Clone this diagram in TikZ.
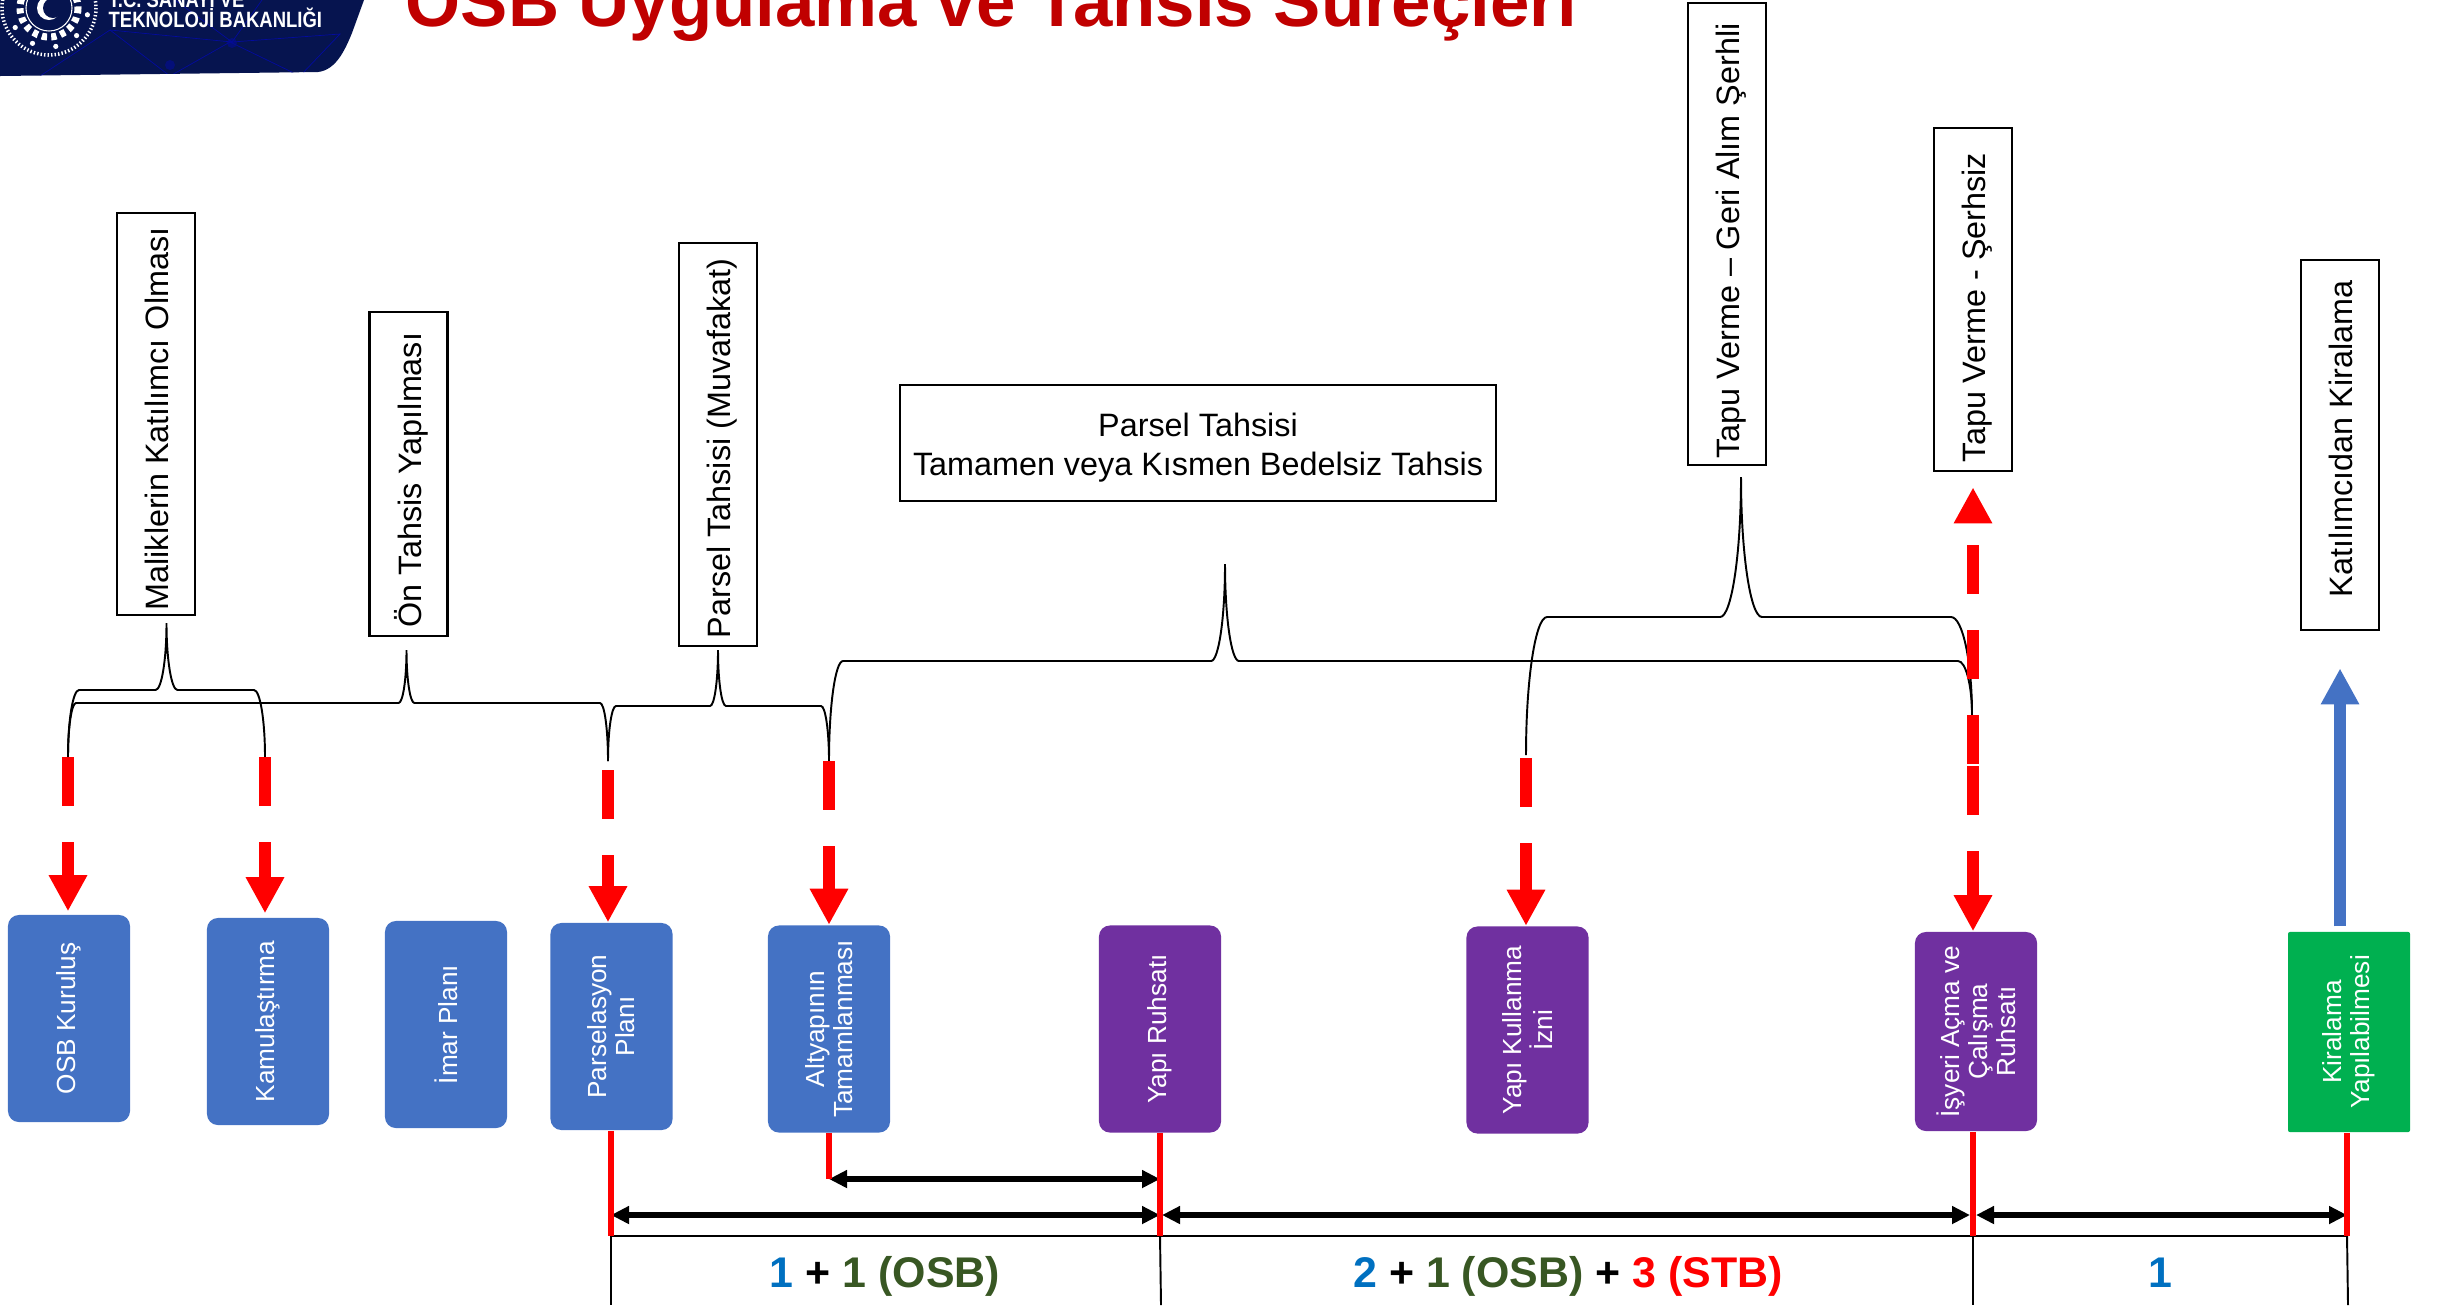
\documentclass[tikz,border=0pt]{standalone}
\usepackage{fontspec}
\setmainfont{Liberation Sans}
\usetikzlibrary{arrows.meta,calc}
\definecolor{lacivert}{HTML}{06144F}
\definecolor{baslik}{HTML}{C00000}
\definecolor{mavi}{HTML}{4472C4}
\definecolor{mor}{HTML}{7030A0}
\definecolor{yesil}{HTML}{00B050}
\definecolor{sayimavi}{HTML}{0070C0}
\definecolor{sayiyesil}{HTML}{385723}
\tikzset{
	kutu/.style={draw=black, line width=0.7pt, fill=white, inner sep=0pt, font=\fontsize{9.2}{11}\selectfont},
	dikey/.style={kutu, rotate=90, minimum height=0.78cm, text height=0.72em, text depth=0pt},
	adim/.style={fill=mavi, text=white, rounded corners=0.11cm, inner sep=0pt, align=center, rotate=90, minimum width=2.07cm, minimum height=1.22cm, font=\fontsize{7.45}{8}\selectfont},
	logoyazi/.style={inner sep=0pt, anchor=base west, text=white, font=\fontsize{5.25}{6}\selectfont\bfseries},
	sure/.style={font=\fontsize{12.2}{14}\selectfont\bfseries, inner sep=0pt, anchor=base},
	parantez/.style={line width=0.55pt, color=black},
	kesikok/.style={line width=0.125cm, color=red, dash pattern=on 0.49cm off 0.36cm, -{Triangle[length=0.36cm,width=0.36cm]}},
	kirmizicizgi/.style={line width=1.5pt, color=red},
	cift/.style={line width=1.7pt, {Triangle[length=0.18cm,width=0.17cm]}-{Triangle[length=0.18cm,width=0.17cm]}},
	ayrac/.style={line width=0.55pt, color=black}
}
% sol ayak, sag ayak, tepe, (duz cizgi, omuz)
\def\kume(#1,#2)(#3,#4)(#5,#6)(#7,#8){\draw[parantez] (#1,#2) .. controls (#1,{#7+0.45*(#2-#7)}) and ({#1+0.45*#8},#7) .. ({#1+#8},#7) -- ({#5-#8},#7) .. controls ({#5-0.45*#8},#7) and (#5,{#6+0.55*(#7-#6)}) .. (#5,#6) .. controls (#5,{#6+0.55*(#7-#6)}) and ({#5+0.45*#8},#7) .. ({#5+#8},#7) -- ({#3-#8},#7) .. controls ({#3-0.45*#8},#7) and (#3,{#7+0.45*(#4-#7)}) .. (#3,#4);}
% yaziyi kutu icinde kaydirir
\def\kayik#1#2{\hbox{\kern#1\relax#2\kern-#1\relax}}
\def\indir#1{\raisebox{-0.05cm}[0.7em][0.2em]{#1}}

\begin{document}
\begin{tikzpicture}[x=0.01cm, y=-0.01cm]
	\useasboundingbox (0,0) rectangle (2443,1305);
	\clip (0,0) rectangle (2443,1305);

	%%%%% logo %%%%%
	\fill[lacivert] (0,76) -- (318,72) .. controls (336,70) and (345,50) .. (352,33) -- (364,0) -- (0,0) -- cycle;
	\begin{scope}
		\clip (0,76) -- (318,72) .. controls (336,70) and (345,50) .. (352,33) -- (364,0) -- (0,0) -- cycle;
		\draw[line width=0.2pt, color=blue!45!lacivert] (40,76) -- (110,30) -- (170,76) -- (230,42) -- (300,76) -- (340,34) -- (232,42) -- (175,0);
		\draw[line width=0.2pt, color=blue!45!lacivert] (110,30) -- (232,42) -- (262,0);
		\fill[blue!40!lacivert, opacity=0.6] (232,43) circle (5);
		\fill[blue!40!lacivert, opacity=0.6] (170,65) circle (5);
	\end{scope}
	\draw[line width=1pt, color=white, dash pattern=on 0.4pt off 0.6pt] (49,8) circle (47);
	\draw[line width=2pt, color=white, dash pattern=on 1.5pt off 1.2pt] (49,8) circle (29);
	\draw[line width=0.3pt, color=white] (49,8) circle (23);
	\foreach \aci in {10,45,...,170}
		\fill[white] ($(49,8)+(\aci:39)$) circle (2.6);
	\fill[white] (49,8) circle (12);
	\fill[lacivert] (53,8) circle (10);
	\node[logoyazi] (bakanlik1) at (108,7) {\scalebox{1}[1.2]{T.C. SANAYİ VE}};
	\node[logoyazi] (bakanlik2) at (108,27) {\scalebox{1}[1.2]{TEKNOLOJİ BAKANLIĞI}};

	\node[inner sep=0pt, anchor=base west, text=baslik, font=\fontsize{20.13}{22}\selectfont\bfseries] (baslikyazi) at (405,26) {OSB Uygulama ve Tahsis Süreçleri};

	%%%%% kutular %%%%%
	\node[dikey, minimum width=4.02cm] (malikler) at (156,414) {\kayik{-0.05cm}{Maliklerin Katılımcı Olması}};
	\node[dikey, minimum width=3.24cm] (ontahsis) at (408.5,474) {\kayik{-0.06cm}{Ön Tahsis Yapılması}};
	\node[dikey, minimum width=4.03cm] (muvafakat) at (718,444.5) {\kayik{-0.04cm}{Parsel Tahsisi (Muvafakat)}};
	\node[kutu, align=center, minimum width=5.96cm, minimum height=1.16cm] (parseltahsis) at (1198,443) {\indir{Parsel Tahsisi}\\[0.01cm]\indir{Tamamen veya Kısmen Bedelsiz Tahsis}};
	\node[dikey, minimum width=4.62cm] (gerialim) at (1727,234) {\kayik{-0.07cm}{Tapu Verme – Geri Alım Şerhli}};
	\node[dikey, minimum width=3.43cm] (serhsiz) at (1973,299.5) {\kayik{-0.08cm}{Tapu Verme - Şerhsiz}};
	\node[dikey, minimum width=3.70cm] (katilimci) at (2340,445) {\kayik{0.06cm}{Katılımcıdan Kiralama}};

	\node[adim] (osb) at (69,1018.5) {OSB Kuruluş};
	\node[adim] (kamulastirma) at (268,1021.5) {Kamulaştırma};
	\node[adim] (imar) at (446,1024.5) {İmar Planı};
	\node[adim] (parselasyon) at (611.5,1026.5) {Parselasyon\\Planı};
	\node[adim] (altyapi) at (829,1029) {Altyapının\\Tamamlanması};
	\node[adim, fill=mor] (ruhsat) at (1160,1029) {Yapı Ruhsatı};
	\node[adim, fill=mor] (kullanma) at (1527.5,1030) {Yapı Kullanma\\İzni};
	\node[adim, fill=mor, minimum width=1.99cm] (isyeri) at (1976,1031.5) {İşyeri Açma ve\\Çalışma\\Ruhsatı};
	\node[adim, fill=yesil, rounded corners=0.02cm, minimum width=2.00cm] (kiralama) at (2349,1032) {Kiralama\\Yapılabilmesi};

	%%%%% parantezler %%%%%
	\kume(68,757)(265,757)(166.5,623)(690,11);
	\kume(68,757)(608,761)(406.5,650)(703,8);
	\kume(608,761)(829,761)(718,650)(706,8);
	\kume(829,761)(1972,715)(1225,564)(661,14);
	\kume(1526,755)(1972,715)(1741,477)(617,21);

	%%%%% kesik oklar %%%%%
	\coordinate (k1) at (68,757);
	\coordinate (k2) at (265,757);
	\coordinate (k3) at (608,770);
	\coordinate (k4) at (829,761);
	\coordinate (k5) at (1526,758);
	\coordinate (k7) at (1973,766);
	\coordinate (k8) at (1973,764);
	\draw[kesikok, shorten >=0.03cm] (k1) -- (k1 |- osb.east);
	\draw[kesikok, shorten >=0.04cm] (k2) -- (k2 |- kamulastirma.east);
	\draw[kesikok] (k3) -- (k3 |- parselasyon.east);
	\draw[kesikok] (k4) -- (k4 |- altyapi.east);
	\draw[kesikok] (k5) -- (k5 |- kullanma.east);
	\draw[kesikok] (k7) -- (k7 |- isyeri.east);
	\draw[kesikok, shorten >=0.15cm] (k8) -- (k8 |- serhsiz.west);

	\coordinate (m1) at (2340,927);
	\draw[line width=0.125cm, color=mavi, -{Triangle[length=0.36cm,width=0.36cm]}, shorten >=0.37cm, shorten <=0.05cm] (m1 |- kiralama.east) -- (m1 |- katilimci.west);

	%%%%% sureler %%%%%
	\coordinate (a1) at (611,1236);
	\coordinate (a2) at (1160,1236);
	\coordinate (a3) at (1973,1236);
	\coordinate (a4) at (2347,1236);
	\coordinate (o1) at (611,1215);
	\coordinate (o2) at (1160,1215);
	\coordinate (o3) at (1973,1215);
	\coordinate (o4) at (2347,1215);
	\coordinate (o5) at (829,1179);
	\coordinate (o6) at (1160,1179);
	\coordinate (b1) at (611,1305);
	\coordinate (b2) at (1161,1305);
	\coordinate (b3) at (1973,1305);
	\coordinate (b4) at (2348,1305);

	\draw[ayrac] (a1) -- (a4);
	\draw[ayrac] (a1) -- (b1);
	\draw[ayrac] (a2) -- (b2);
	\draw[ayrac] (a3) -- (b3);
	\draw[ayrac] (a4) -- (b4);

	\draw[cift] (o1) -- (o2);
	\draw[cift, shorten <=0.02cm, shorten >=0.03cm] (o2) -- (o3);
	\draw[cift, shorten <=0.03cm] (o3) -- (o4);
	\draw[cift] (o5) -- (o6);

	\draw[kirmizicizgi] (a1 |- parselasyon.west) -- (a1);
	\draw[kirmizicizgi] (altyapi.west) -- (o5);
	\draw[kirmizicizgi] (ruhsat.west) -- (a2);
	\draw[kirmizicizgi] (a3 |- isyeri.west) -- (a3);
	\draw[kirmizicizgi] (a4 |- kiralama.west) -- (a4);

	\node[sure] (sure1) at (885,1287) {\textcolor{sayimavi}{1} + \textcolor{sayiyesil}{1 (OSB)}};
	\node[sure] (sure2) at (1568,1287) {\textcolor{sayimavi}{2} + \textcolor{sayiyesil}{1 (OSB)} + \textcolor{red}{3 (STB)}};
	\node[sure] (sure3) at (2160,1287) {\textcolor{sayimavi}{1}};
\end{tikzpicture}
\end{document}
